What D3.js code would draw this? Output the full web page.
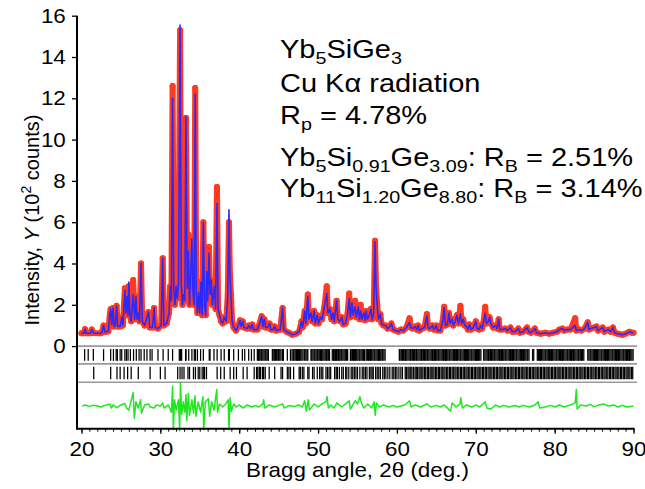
<!DOCTYPE html>
<html>
<head>
<meta charset="utf-8">
<script src="https://cdn.jsdelivr.net/npm/d3@7"></script>
<style>
body { margin: 0; background: #fff; }
svg text { font-family: "Liberation Sans", Arial, Helvetica, sans-serif; }
</style>
</head>
<body>
<div id="chart"></div>
<script>
// observed profile: [2theta, Yobs, Ycalc (only where it differs)]
var profile = [
  [20.0,0.62],[20.3,0.62],[20.45,0.82],[20.6,0.62],[21.1,0.62],[21.3,0.8],[21.5,0.63],[22.4,0.62],
  [22.6,0.66],[22.8,1.0],[23.0,0.68],[23.4,0.72],[23.6,1.55],[23.7,1.8],[23.85,1.05],[24.0,1.85],
  [24.15,0.95],[24.3,1.0],[24.45,1.95],[24.6,0.95],[24.9,0.95],[25.1,1.4],[25.25,1.0],[25.5,2.8,2.7],
  [25.62,1.6],[25.75,2.4],[25.9,1.5],[26.0,2.9,3.1],[26.15,1.5],[26.3,1.2],[26.55,3.2,2.5],[26.75,1.3],
  [26.9,2.4],[27.05,1.3],[27.2,1.6],[27.35,1.2],[27.55,4.0],[27.7,1.2],[28.0,1.0],[28.5,1.65],
  [28.65,0.9],[29.0,0.9],[29.2,1.85],[29.35,0.9],[29.7,0.85],[30.1,1.0],[30.3,4.25],[30.45,1.0],
  [30.8,1.1],[31.1,1.6],[31.25,2.9],[31.4,2.2],[31.55,12.6,12.0],[31.7,2.7],[31.85,2.0],[32.0,2.9],
  [32.15,2.3],[32.3,3.0],[32.5,15.3,15.55],[32.65,3.0],[32.8,2.0],[32.95,2.5],[33.1,2.2],[33.25,11.05,11.1],
  [33.4,2.8],[33.55,5.4,4.6],[33.7,2.0],[33.85,3.5],[34.0,5.0,5.2],[34.15,2.5],[34.28,2.0],[34.42,12.5,12.2],
  [34.55,2.5],[34.7,1.6],[34.85,2.6],[35.0,1.6],[35.15,3.1],[35.3,1.5],[35.45,6.0],[35.6,2.0],
  [35.75,1.5],[35.9,3.6],[36.0,2.2],[36.17,4.8,4.5],[36.3,2.5],[36.45,3.2],[36.6,2.0],[36.85,2.9],
  [37.0,1.8],[37.18,7.7,6.9],[37.32,1.8],[37.5,1.5],[37.7,1.2],[37.9,1.1],[38.1,1.4],[38.35,1.2],
  [38.55,2.5],[38.7,6.0,6.6],[38.82,3.5],[38.95,2.5],[39.1,1.2],[39.3,0.9],[39.6,0.75],[39.9,1.0],
  [40.1,1.25],[40.25,0.95],[40.45,1.2],[40.6,0.9],[41.0,0.85],[41.2,1.0],[41.4,0.85],[41.65,1.05],
  [41.8,0.8],[42.3,0.8],[42.6,1.1],[42.85,1.45],[43.0,0.95],[43.2,1.3],[43.35,0.9],[43.6,0.9],
  [43.85,1.1],[44.0,0.8],[44.3,0.8],[44.5,0.95],[44.7,0.75],[45.2,0.8],[45.5,1.85],[45.65,0.8],
  [46.0,0.7],[46.3,0.65],[46.7,0.55],[47.2,0.6],[47.6,0.7],[47.9,1.2],[48.05,0.9],[48.3,1.7],
  [48.45,1.1],[48.7,2.5,2.4],[48.85,1.3],[49.1,1.6],[49.25,1.2],[49.5,1.7],[49.65,1.1],[49.9,1.5],
  [50.05,1.1],[50.3,1.4],[50.5,1.3],[50.8,1.9],[51.1,2.9,2.55],[51.25,1.6],[51.5,1.8],[51.7,1.3],
  [51.9,1.6],[52.05,1.2],[52.35,2.2],[52.5,1.3],[52.8,1.2],[53.0,1.4],[53.2,1.05],[53.5,1.1],
  [53.75,1.6],[53.95,2.55,2.3],[54.1,1.4],[54.3,2.1],[54.45,1.5],[54.7,2.2,1.9],[54.85,1.4],[55.1,1.9],
  [55.25,1.3],[55.4,2.0,1.7],[55.55,1.3],[55.8,1.6],[55.95,1.25],[56.1,1.7],[56.25,1.3],[56.5,1.5],
  [56.7,1.8],[56.85,1.3],[57.05,1.6],[57.22,5.1,5.05],[57.35,2.9],[57.5,2.0],[57.65,1.3],[57.9,1.55],
  [58.05,1.1],[58.3,1.0],[58.6,1.0],[58.8,0.85],[59.0,0.9],[59.3,1.1],[59.5,0.8],[59.8,0.75],
  [60.2,0.7],[60.5,0.8],[60.8,0.75],[61.2,0.9],[61.6,1.35,1.15],[61.75,0.9],[62.0,0.85],[62.3,0.95],
  [62.5,0.8],[62.7,1.0],[62.85,0.75],[63.2,0.85],[63.5,0.9],[63.8,1.55,1.45],[63.95,0.9],[64.2,0.85],
  [64.5,1.0],[64.7,0.8],[65.0,1.0],[65.15,0.75],[65.5,0.75],[65.8,1.2],[66.0,1.9,1.85],[66.15,1.0],
  [66.4,1.05],[66.6,1.6],[66.75,1.1],[67.0,1.3],[67.15,1.0],[67.4,1.2],[67.6,1.5],[67.8,1.1],
  [68.05,1.95,1.55],[68.2,1.1],[68.4,1.3],[68.6,1.0],[68.85,0.95],[69.0,0.8],[69.2,1.05],[69.4,0.8],
  [69.6,0.85],[69.8,1.0],[70.0,1.2],[70.15,0.85],[70.4,0.8],[70.6,1.0],[70.8,0.85],[71.0,1.2],
  [71.2,1.9,1.6],[71.35,1.1],[71.6,1.2],[71.75,1.4],[71.9,1.1],[72.2,0.9],[72.5,1.0],[72.7,0.85],
  [72.9,1.3],[73.05,0.8],[73.4,0.8],[73.7,0.85],[74.0,0.75],[74.4,0.9],[74.6,0.7],[75.0,0.7],
  [75.4,0.85],[75.6,0.65],[76.0,0.7],[76.5,0.9],[76.7,0.7],[77.0,0.65],[77.5,0.85],[77.7,0.65],
  [78.2,0.6],[78.8,0.65],[79.3,0.6],[79.8,0.65],[80.3,0.7],[80.6,0.8],[81.0,0.85],[81.2,0.75],
  [81.6,0.8],[82.0,0.8],[82.6,1.35,1.0],[82.75,0.75],[83.1,0.8],[83.4,0.75],[83.8,0.85],[84.2,1.15],
  [84.35,0.8],[84.6,0.85],[85.0,0.9],[85.3,0.95],[85.5,0.75],[86.1,0.9],[86.3,0.7],[86.8,0.8],
  [87.1,0.7],[87.4,0.9],[87.6,0.65],[88.0,0.6],[88.6,0.55],[89.0,0.6],[89.5,0.7],[89.8,0.65],[90.0,0.65]
];

// Yobs - Ycalc, drawn shifted down by diffOffset
var diffOffset = -2.9;
var difference = [
  [20.1,0.0],[20.5,0.05],[21.0,-0.03],[21.5,0.04],[22.0,0.0],[22.5,-0.05],[23.0,0.03],[23.6,0.1],
  [23.8,-0.1],[24.0,0.05],[24.5,-0.08],[25.0,0.05],[25.5,0.12],[25.7,-0.1],[26.0,-0.2],[26.2,0.1],
  [26.55,0.65],[26.7,-0.6],[26.9,0.2],[27.2,-0.1],[27.5,0.3],[27.6,-0.35],[28.0,0.05],[28.5,0.1],
  [28.7,-0.05],[29.2,-0.1],[29.5,0.05],[30.0,0.0],[30.3,0.15],[30.5,-0.1],[31.0,0.05],[31.4,-0.3],
  [31.55,0.95],[31.65,-1.15],[31.8,0.3],[32.0,-0.2],[32.3,0.3],[32.45,-1.2],[32.55,1.15],[32.7,-0.4],
  [32.9,0.2],[33.1,-0.3],[33.25,0.55],[33.35,-0.7],[33.55,0.6],[33.7,-0.45],[34.0,0.3],[34.2,-0.35],
  [34.4,0.5],[34.5,-0.5],[34.8,0.2],[35.1,-0.3],[35.4,0.45],[35.5,-1.15],[35.7,0.2],[36.1,0.35],
  [36.25,-0.5],[36.5,0.2],[36.8,-0.2],[37.15,0.8],[37.25,-0.3],[37.5,0.1],[37.9,-0.05],[38.3,0.1],
  [38.6,0.3],[38.7,-1.15],[38.85,0.4],[39.0,-0.25],[39.3,0.1],[39.6,-0.05],[40.0,0.05],[40.5,-0.1],
  [41.0,0.05],[41.6,-0.05],[42.0,0.02],[42.5,-0.05],[43.0,0.1],[43.1,0.3],[43.25,-0.1],[43.8,0.05],
  [44.5,-0.05],[45.0,0.03],[45.5,0.1],[45.7,-0.1],[46.3,0.02],[47.0,-0.03],[47.5,0.05],[48.0,-0.05],
  [48.3,0.25],[48.5,-0.25],[48.75,0.3],[48.9,-0.2],[49.5,0.1],[50.0,-0.05],[50.5,0.1],[51.0,0.2],
  [51.15,0.45],[51.3,-0.1],[51.6,0.05],[52.0,-0.1],[52.4,0.15],[53.0,-0.05],[53.5,0.1],[53.95,0.25],
  [54.1,-0.15],[54.7,0.25],[55.0,0.1],[55.3,0.45],[55.5,0.15],[55.8,-0.1],[56.3,0.1],[56.8,-0.1],
  [57.1,0.2],[57.25,-0.45],[57.4,0.15],[57.8,-0.05],[58.3,0.05],[59.0,-0.05],[59.5,0.03],[60.0,-0.05],
  [60.5,0.0],[61.0,0.05],[61.6,0.25],[61.8,-0.05],[62.3,0.05],[63.0,-0.05],[63.8,0.1],[64.3,-0.05],
  [65.0,0.03],[65.5,-0.05],[66.0,0.05],[66.8,-0.25],[67.0,0.15],[67.5,-0.05],[68.0,0.1],[68.1,0.4],
  [68.3,-0.1],[68.8,0.05],[69.5,-0.05],[70.0,0.05],[70.5,-0.05],[71.2,0.2],[71.4,-0.1],[71.9,-0.15],
  [72.5,0.05],[73.0,-0.05],[73.5,0.03],[74.2,-0.05],[75.0,0.02],[75.5,-0.05],[76.0,0.03],[76.8,-0.05],
  [77.5,0.05],[77.9,0.2],[78.1,-0.1],[78.8,-0.05],[79.5,0.03],[80.0,-0.05],[80.6,0.05],[81.2,-0.05],
  [82.0,0.05],[82.6,0.15],[82.75,0.8],[82.85,-0.15],[83.3,0.05],[84.0,0.0],[84.5,0.08],[85.0,-0.03],
  [85.6,0.05],[86.2,0.1],[86.8,0.0],[87.5,0.05],[88.0,-0.05],[88.6,0.03],[89.2,-0.05],[90.0,0.0]
];

// Bragg reflection positions (2theta), phase 1: Yb5Si0.91Ge3.09
var ticksPhase1 = [20.4,20.85,21.5,22.8,23.7,24.05,24.4,24.55,24.9,25.1,25.5,25.7,25.9,26.2,26.6,26.95,
  27.3,27.55,27.95,28.3,28.7,28.95,29.7,30.35,31.0,31.55,32.4,32.55,32.7,33.2,33.25,33.6,34.0,34.3,
  34.45,34.7,35.1,35.45,36.2,36.3,36.8,37.2,37.7,38.1,38.65,38.75,39.3,39.9,40.4,40.7,41.2,41.55,41.9,
  42.3,42.45,42.6,42.75,42.85,43.0,43.15,43.3,43.4,43.55,43.7,44.2,44.3,44.45,44.6,44.75,44.9,45.0,
  45.15,45.3,45.5,45.6,46.1,46.5,46.7,46.85,46.95,47.1,47.25,47.4,47.5,47.65,47.8,47.95,48.1,48.3,
  48.45,48.6,48.7,49.1,49.2,49.35,49.5,49.6,49.75,49.9,50.0,50.15,50.3,50.45,50.6,50.75,50.9,51.05,
  51.15,51.3,51.45,51.8,51.95,52.05,52.2,52.35,52.5,52.6,52.75,52.9,53.0,53.15,53.3,53.45,53.6,53.75,
  54.1,54.2,54.35,54.5,54.6,54.75,54.9,55.05,55.2,55.3,55.45,55.6,55.75,55.9,56.1,56.25,56.4,56.55,
  56.65,56.8,56.95,57.1,57.2,57.35,57.5,57.65,57.8,57.95,58.1,58.2,58.35,58.5,60.3,60.4,60.55,60.7,
  60.85,61.0,61.1,61.25,61.4,61.55,61.7,61.8,61.95,62.1,62.25,62.4,62.5,62.65,62.8,62.95,63.1,63.2,
  63.35,63.5,63.65,63.8,63.9,64.05,64.2,64.35,64.5,64.6,64.75,64.9,65.05,65.2,65.3,65.45,65.6,65.75,
  65.9,66.0,66.15,66.3,66.45,66.6,66.7,66.85,67.0,67.15,67.3,67.4,67.55,67.7,67.85,68.0,68.1,68.25,
  68.4,68.55,68.7,68.8,68.95,69.1,69.25,69.4,69.5,69.65,69.8,69.95,70.1,70.2,70.35,70.5,70.65,71.0,
  71.15,71.3,71.45,71.6,71.7,71.85,72.0,72.15,72.3,72.4,72.55,72.7,72.85,73.0,73.1,73.25,73.4,73.55,
  73.7,73.8,73.95,74.1,74.25,74.4,74.5,74.65,74.8,74.95,75.1,75.2,75.35,75.5,75.65,75.8,75.9,76.05,
  76.2,76.35,76.5,76.6,76.75,77.2,77.35,77.8,77.95,78.1,78.2,78.35,78.5,78.65,78.8,78.9,79.05,79.2,
  79.35,79.5,79.6,79.75,79.9,80.05,80.2,80.3,80.45,80.6,80.75,80.9,81.0,81.15,81.3,81.45,81.6,81.7,
  81.85,82.0,82.15,82.3,82.4,82.55,82.7,82.85,83.0,83.1,83.25,83.4,83.55,83.7,84.2,84.35,84.5,84.6,
  84.75,84.9,85.05,85.2,85.3,85.45,85.6,85.75,85.9,86.0,86.15,86.3,86.45,86.6,86.7,86.85,87.0,87.15,
  87.3,87.4,87.55,87.7,87.85,88.0,88.1,88.25,88.4,88.55,88.7,88.8,88.95,89.1,89.25,89.4,89.5,89.65,
  89.8,89.95];

// phase 2: Yb11Si1.20Ge8.80
var ticksPhase2 = [21.55,23.7,24.5,24.9,25.4,25.85,26.3,27.2,28.7,30.0,30.6,32.2,32.5,32.75,33.0,33.5,
  33.7,34.2,34.45,34.8,35.0,35.3,35.5,35.6,35.85,37.2,37.65,38.1,38.85,39.3,39.65,40.5,41.0,41.9,42.2,
  42.35,42.55,42.7,42.95,43.1,43.3,43.8,44.5,45.3,45.5,46.1,46.3,46.5,46.9,47.6,47.75,48.0,48.2,48.7,
  48.85,49.3,49.5,49.9,50.2,50.4,50.6,51.0,51.2,51.4,51.6,52.1,52.3,52.45,52.7,53.0,53.2,53.5,53.65,
  53.9,54.2,54.4,54.6,54.8,55.0,55.3,55.6,55.8,56.0,56.2,56.5,56.7,56.85,57.0,57.3,57.5,57.7,57.9,
  58.2,58.4,58.6,58.85,59.1,59.4,59.6,59.8,60.0,60.25,60.5,60.7,61.05,61.2,61.4,61.55,61.75,61.9,
  62.1,62.3,62.45,62.6,62.8,62.95,63.15,63.3,63.5,63.65,63.85,64.0,64.2,64.35,64.55,64.7,64.9,65.05,
  65.25,65.4,65.6,65.75,65.95,66.1,66.3,66.45,66.65,66.8,67.0,67.15,67.35,67.5,67.7,67.85,68.05,68.2,
  68.4,68.55,68.75,68.9,69.1,69.25,69.45,69.6,69.8,69.95,70.15,70.3,70.5,70.65,70.85,71.0,71.2,71.35,
  71.55,71.7,71.9,72.05,72.25,72.4,72.6,72.75,72.95,73.1,73.3,73.45,73.65,73.8,74.0,74.15,74.35,74.5,
  74.7,74.85,75.05,75.2,75.4,75.55,75.75,75.9,76.1,76.25,76.45,76.6,76.8,76.95,77.15,77.3,77.5,77.65,
  77.85,78.0,78.2,78.35,78.55,78.7,78.9,79.05,79.25,79.4,79.6,79.75,79.95,80.1,80.3,80.45,80.65,80.8,
  81.0,81.15,81.35,81.5,81.7,81.85,82.05,82.2,82.4,82.55,82.75,82.9,83.1,83.25,83.45,83.6,83.8,83.95,
  84.15,84.3,84.5,84.65,84.85,85.0,85.2,85.35,85.55,85.7,85.9,86.05,86.25,86.4,86.6,86.75,86.95,87.1,
  87.3,87.45,87.65,87.8,88.0,88.15,88.35,88.5,88.7,88.85,89.05,89.2,89.4,89.55,89.75,89.9];

// rows for the reflection markers (in 10^2 counts units)
var tickRows = [0, -0.86, -1.75];

var xTicks = [20, 30, 40, 50, 60, 70, 80, 90];
var yTicks = [0, 2, 4, 6, 8, 10, 12, 14, 16];

// annotation lines, [text, "sub"] for subscripts
var notes = [
  [["Yb"], ["5", "sub"], ["SiGe"], ["3", "sub"]],
  [["Cu K\u03b1 radiation"]],
  [["R"], ["p", "sub"], [" = 4.78%"]],
  [["Yb"], ["5", "sub"], ["Si"], ["0.91", "sub"], ["Ge"], ["3.09", "sub"], [": R"], ["B", "sub"], [" = 2.51%"]],
  [["Yb"], ["11", "sub"], ["Si"], ["1.20", "sub"], ["Ge"], ["8.80", "sub"], [": R"], ["B", "sub"], [" = 3.14%"]]
];

function PatternChart(id) {

    d3.select(id).select("svg").remove();

    var svg = d3.select(id)
                .append("svg")
                .attr("width", 645)
                .attr("height", 489);

    var x = d3.scaleLinear()
                .domain([20, 90])
                .range([81.5, 633.5]);

    var y = d3.scaleLinear()
                .domain([-4, 16])
                .range([428.7, 15.7]);

    var axisX = 77;
    var stretch = "scale(1.12,1)";   // the lettering of the original is a bit wide

    // gray separator lines for the reflection rows
    svg.selectAll(".rowline")
        .data(tickRows)
        .enter()
        .append("line")
        .attr("x1", axisX)
        .attr("x2", x(90.45))
        .attr("y1", function(d) { return y(d); })
        .attr("y2", function(d) { return y(d); })
        .attr("stroke", "#9a9a9a")
        .attr("stroke-width", 1.6);

    // reflection markers
    var phases = [ticksPhase1, ticksPhase2];
    phases.forEach(function(list, i) {
        var top = y(tickRows[i]) + 3;
        var bottom = y(tickRows[i + 1]) - 3;
        svg.append("g")
            .selectAll("line")
            .data(list)
            .enter()
            .append("line")
            .attr("x1", function(d) { return x(d); })
            .attr("x2", function(d) { return x(d); })
            .attr("y1", top)
            .attr("y2", bottom)
            .attr("stroke", "#000")
            .attr("stroke-width", 1.25);
    });

    // difference curve
    var diffLine = d3.line()
        .x(function(d) { return x(d[0]); })
        .y(function(d) { return y(d[1] + diffOffset); });
    svg.append("path")
        .datum(difference)
        .attr("d", diffLine)
        .attr("fill", "none")
        .attr("stroke", "#1fe81f")
        .attr("stroke-width", 1.5)
        .attr("stroke-linejoin", "round");

    // observed points
    var obsLine = d3.line()
        .x(function(d) { return x(d[0]); })
        .y(function(d) { return y(d[1]); });
    svg.append("path")
        .datum(profile)
        .attr("d", obsLine)
        .attr("fill", "none")
        .attr("stroke", "#ff3a22")
        .attr("stroke-width", 6)
        .attr("stroke-linejoin", "round")
        .attr("stroke-linecap", "round");
    svg.selectAll(".obs")
        .data(profile)
        .enter()
        .append("circle")
        .attr("cx", function(d) { return x(d[0]); })
        .attr("cy", function(d) { return y(d[1]); })
        .attr("r", 3)
        .attr("fill", "#ff3a22");

    // calculated profile
    var calcLine = d3.line()
        .x(function(d) { return x(d[0]); })
        .y(function(d) { return y(d.length > 2 ? d[2] : d[1]); });
    svg.append("path")
        .datum(profile)
        .attr("d", calcLine)
        .attr("fill", "none")
        .attr("stroke", "#2a2aff")
        .attr("stroke-width", 1.6)
        .attr("stroke-linejoin", "round");

    // X axis, minor then major ticks
    var xMinor = d3.range(20, 91, 1);
    svg.append("g")
        .attr("transform", "translate(0," + y(-4) + ")")
        .call(d3.axisBottom(x).tickValues(xMinor).tickSize(3).tickFormat(""))
        .call(function(g) { g.select(".domain").remove(); })
        .selectAll("line").attr("stroke-width", 1);
    var gx = svg.append("g")
        .attr("transform", "translate(0," + y(-4) + ")")
        .call(d3.axisBottom(x).tickValues(xTicks).tickSize(5).tickPadding(8))
        .call(function(g) { g.select(".domain").remove(); });
    gx.selectAll("line").attr("stroke-width", 1.3);
    gx.selectAll("text")
        .attr("transform", stretch)
        .style("font-size", "20px")
        .attr("fill", "#000");
    svg.append("line")
        .attr("x1", axisX)
        .attr("x2", x(90) + 1)
        .attr("y1", y(-4))
        .attr("y2", y(-4))
        .attr("stroke", "#000")
        .attr("stroke-width", 2);

    // Y axis
    var gy = svg.append("g")
        .attr("transform", "translate(" + axisX + ",0)")
        .call(d3.axisLeft(y).tickValues(yTicks).tickSize(5).tickPadding(5))
        .call(function(g) { g.select(".domain").remove(); });
    gy.selectAll("line").attr("stroke-width", 1.3);
    gy.selectAll("text")
        .attr("transform", stretch)
        .style("font-size", "20px")
        .attr("fill", "#000");
    svg.append("line")
        .attr("x1", axisX)
        .attr("x2", axisX)
        .attr("y1", y(16))
        .attr("y2", y(-4) + 1)
        .attr("stroke", "#000")
        .attr("stroke-width", 2);

    // x label
    svg.append("text")
        .attr("text-anchor", "middle")
        .attr("transform", "translate(" + (x(20) + x(90)) / 2 + ",477)" + stretch)
        .style("font-size", "20px")
        .text("Bragg angle, 2\u03b8 (deg.)");

    // y label
    var yl = svg.append("text")
        .attr("text-anchor", "middle")
        .attr("transform", "translate(39,220)rotate(-90)")
        .style("font-size", "20px");
    yl.append("tspan").text("Intensity, ");
    yl.append("tspan").style("font-style", "italic").text("Y");
    yl.append("tspan").text(" (10");
    yl.append("tspan").attr("dy", -8).style("font-size", "14px").text("2");
    yl.append("tspan").attr("dy", 8).text(" counts)");

    // annotation block
    var baselines = [58, 92, 124, 166, 197];
    var block = svg.append("g")
        .attr("transform", "translate(280,0)scale(1.16,1)");
    notes.forEach(function(line, i) {
        var t = block.append("text")
            .attr("x", 0)
            .attr("y", baselines[i])
            .style("font-size", "25px");
        var low = false;
        line.forEach(function(seg) {
            var s = t.append("tspan").text(seg[0]);
            if (seg[1] === "sub") {
                s.style("font-size", "17px");
                if (!low) { s.attr("dy", 6); low = true; }
            } else if (low) {
                s.attr("dy", -6);
                low = false;
            }
        });
    });
}

PatternChart("#chart");
</script>
</body>
</html>
